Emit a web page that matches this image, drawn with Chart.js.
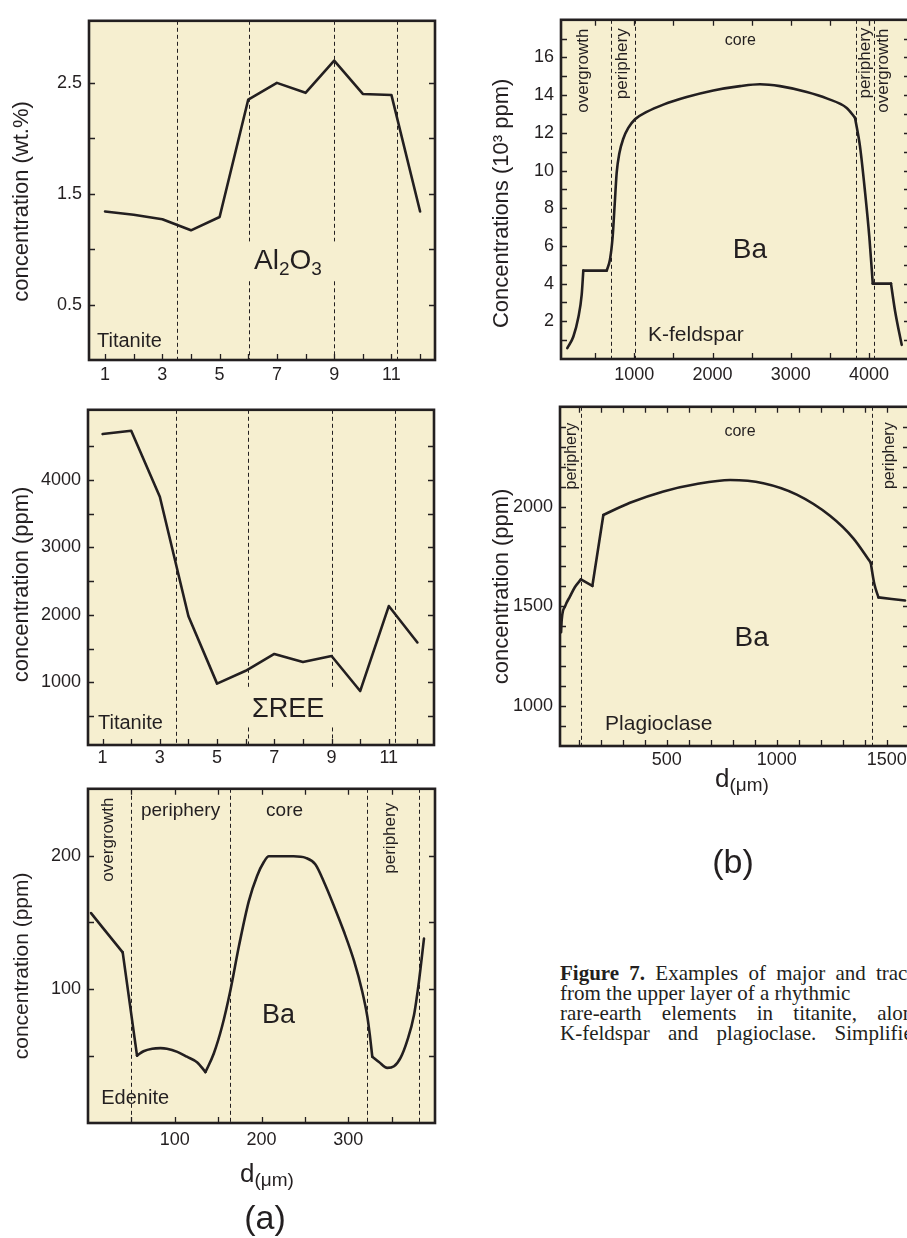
<!DOCTYPE html>
<html>
<head>
<meta charset="utf-8">
<script src="https://cdn.jsdelivr.net/npm/chart.js@4.4.0/dist/chart.umd.min.js"></script>
<style>
  body { margin: 0; background: #fff; width: 907px; height: 1238px; overflow: hidden; position: relative;
         font-family: 'Liberation Sans', Arial, sans-serif; color: #231f20; }
  canvas { position: absolute; }
  .t { position: absolute; white-space: nowrap; }
  .cap { position: absolute; left: 560px; font-family: 'Liberation Serif', 'Times New Roman', serif;
         font-size: 21px; line-height: 20px; white-space: nowrap; }
</style>
</head>
<body>
<canvas id="c1"></canvas>
<canvas id="c2"></canvas>
<canvas id="c3"></canvas>
<canvas id="c4"></canvas>
<canvas id="c5"></canvas>

<div class="t" style="left:240px;top:1160px;font-size:26px;line-height:26px">d<span style="font-size:19px;position:relative;top:4px">(μm)</span></div>
<div class="t" style="left:215px;top:1200px;width:100px;text-align:center;font-size:34px;line-height:34px">(a)</div>
<div class="t" style="left:715px;top:765px;font-size:26px;line-height:26px">d<span style="font-size:19px;position:relative;top:4px">(μm)</span></div>
<div class="t" style="left:683px;top:844px;width:100px;text-align:center;font-size:34px;line-height:34px">(b)</div>

<div class="cap" style="top:963px;word-spacing:5px"><b>Figure 7.</b> Examples of major and trace</div>
<div class="cap" style="top:983px;word-spacing:0px">from the upper layer of a rhythmic</div>
<div class="cap" style="top:1003px;word-spacing:15px">rare-earth elements in titanite, along</div>
<div class="cap" style="top:1023px;word-spacing:13px">K-feldspar and plagioclase. Simplified</div>

<script>
// titanite spot profile, 12 analysis points
const spotNo = [1, 2, 3, 4, 5, 6, 7, 8, 9, 10, 11, 12];
const al2o3Wt = [1.34, 1.31, 1.27, 1.17, 1.29, 2.35, 2.50, 2.41, 2.70, 2.40, 2.39, 1.34];
const sumReePpm = [4680, 4730, 3750, 1980, 980, 1170, 1420, 1300, 1390, 870, 2130, 1590];

// edenite Ba profile
const edeniteD = [3.5, 40, 56.5, 64, 74, 83.5, 91, 103, 114, 126, 135.4, 145, 154.6, 164, 174, 185.4, 195, 202.7,
  208.5, 237, 251, 262, 272, 283.5, 295, 306.5, 316, 322, 325, 327.7, 335.4, 345, 352.7, 360.4, 368, 375.8, 381.5, 387.3];
const edeniteBa = [157, 127.6, 50.4, 53.7, 55.6, 56, 55.6, 53.2, 49.6, 45.3, 38.1, 52, 72.4, 98.8, 132.4, 166, 185, 195.2,
  199.5, 199.5, 198.3, 193.5, 180.3, 162.4, 143.2, 121.6, 98.8, 79.6, 65.2, 49.6, 45.6, 41.2, 42.4, 48.9, 61.6, 80.8, 106, 137.9];
const edeniteKinks = [1, 2, 10, 29];

// K-feldspar Ba profile (10^3 ppm)
const kfsD = [143, 220, 284, 327, 348, 647, 689, 723, 749, 775, 809, 859, 923, 1009, 1158, 1371, 1670, 2010, 2352, 2607,
  2863, 3205, 3460, 3716, 3822, 3886, 3950, 4005, 4049, 4282, 4334, 4419];
const kfsBa = [0.58, 1.18, 2.2, 3.4, 4.69, 4.69, 5.28, 6.48, 8.19, 9.9, 10.92, 11.69, 12.26, 12.72, 13.11, 13.5, 13.9, 14.25,
  14.48, 14.58, 14.48, 14.17, 13.83, 13.32, 12.8, 11.27, 8.87, 6.48, 4.0, 4.0, 2.55, 0.75];
const kfsKinks = [4, 5, 24, 28, 29];

// plagioclase Ba profile
const plgD = [20, 23, 38, 60, 83, 110, 162, 212, 333, 485, 636, 788, 939, 1091, 1242, 1348, 1427, 1443, 1462, 1583];
const plgBa = [1370, 1435, 1500, 1549, 1597, 1635, 1602, 1958, 2019, 2076, 2113, 2133, 2117, 2060, 1954, 1841, 1719, 1614, 1545, 1529];
const plgKinks = [5, 6, 7, 16, 18];

// tick labels
const spotTicks = [1, 3, 5, 7, 9, 11];
const al2o3Ticks = [0.5, 1.5, 2.5];
const reeTicks = [1000, 2000, 3000, 4000];
const edeniteDTicks = [100, 200, 300];
const edeniteBaTicks = [100, 200];
const kfsDTicks = [1000, 2000, 3000, 4000];
const kfsBaTicks = [2, 4, 6, 8, 10, 12, 14, 16];
const plgDTicks = [500, 1000, 1500];
const plgBaTicks = [1000, 1500, 2000];

const ink = '#231f20';
const cream = '#f6efd0';
const FONT = "'Liberation Sans', Arial, sans-serif";

const range = (a, b, s) => { const r = []; for (let v = a; v <= b + 1e-9; v += s) r.push(+v.toFixed(6)); return r; };

// split a profile at its sharp kinks so that each piece can be drawn as a smooth curve
function pieces(xs, ys, kinks) {
  if (!kinks) return [xs.map((v, i) => ({ x: v, y: ys[i] }))];
  const cuts = [0, ...kinks, xs.length - 1];
  const out = [];
  for (let k = 0; k < cuts.length - 1; k++) {
    const pts = [];
    for (let i = cuts[k]; i <= cuts[k + 1]; i++) pts.push({ x: xs[i], y: ys[i] });
    out.push(pts);
  }
  return out;
}

const panelPlugin = {
  id: 'panel',
  beforeDraw(chart, args, o) {
    const { ctx, chartArea: a } = chart;
    ctx.save();
    ctx.fillStyle = cream;
    ctx.fillRect(a.left, a.top, a.right - a.left, a.bottom - a.top);
    ctx.restore();
  },
  beforeDatasetsDraw(chart, args, o) {
    const { ctx, chartArea: a, scales: { x, y } } = chart;
    ctx.save();
    ctx.strokeStyle = ink;
    ctx.lineWidth = 1;
    ctx.setLineDash([4, 3]);
    (o.dashes || []).forEach(d => {
      const px = Math.round(x.getPixelForValue(d.x)) + 0.5;
      const segs = d.gap
        ? [[a.top, y.getPixelForValue(d.gap[0])], [y.getPixelForValue(d.gap[1]), a.bottom]]
        : [[a.top, a.bottom]];
      segs.forEach(([y0, y1]) => {
        ctx.beginPath(); ctx.moveTo(px, y0); ctx.lineTo(px, y1); ctx.stroke();
      });
    });
    ctx.restore();
  },
  afterDraw(chart, args, o) {
    const { ctx, chartArea: a, scales: { x, y } } = chart;
    ctx.save();
    ctx.strokeStyle = ink;
    ctx.fillStyle = ink;
    // inward tick marks
    ctx.lineWidth = 1.3;
    ctx.beginPath();
    (o.xMinor || []).forEach(v => {
      const px = Math.round(x.getPixelForValue(v)) + 0.5;
      ctx.moveTo(px, a.bottom); ctx.lineTo(px, a.bottom - 6);
      if (o.topTicks) { ctx.moveTo(px, a.top); ctx.lineTo(px, a.top + 6); }
    });
    (o.yMinor || []).forEach(v => {
      const py = Math.round(y.getPixelForValue(v)) + 0.5;
      ctx.moveTo(a.left, py); ctx.lineTo(a.left + 6, py);
      ctx.moveTo(a.right, py); ctx.lineTo(a.right - 6, py);
    });
    ctx.stroke();
    // frame
    ctx.lineWidth = 2.6;
    ctx.strokeRect(a.left, a.top, a.right - a.left, a.bottom - a.top);
    // labels inside the panel
    (o.labels || []).forEach(l => {
      ctx.save();
      ctx.translate(x.getPixelForValue(l.x), y.getPixelForValue(l.y));
      if (l.rot) ctx.rotate(-Math.PI / 2);
      if (l.parts) {
        ctx.textAlign = 'left';
        ctx.textBaseline = 'alphabetic';
        let cx = 0;
        l.parts.forEach(([t, size, dy]) => {
          ctx.font = size + 'px ' + FONT;
          ctx.fillText(t, cx, dy);
          cx += ctx.measureText(t).width;
        });
      } else {
        ctx.font = l.size + 'px ' + FONT;
        ctx.textAlign = l.align || 'center';
        ctx.textBaseline = 'middle';
        ctx.fillText(l.t, 0, 0);
      }
      ctx.restore();
    });
    // y axis title
    if (o.title) {
      ctx.save();
      ctx.translate(o.title.cx, (a.top + a.bottom) / 2 + o.title.dy);
      ctx.rotate(-Math.PI / 2);
      ctx.font = o.title.size + 'px ' + FONT;
      ctx.textAlign = 'center';
      ctx.textBaseline = 'middle';
      ctx.fillText(o.title.t, 0, 0);
      ctx.restore();
    }
    ctx.restore();
  }
};

function makePanel(id, pos, xs, ys, kinks, xScale, yScale, deco) {
  const cv = document.getElementById(id);
  const padT = 6, padR = 6, xH = 40;
  cv.width = pos.r + padR - pos.cx;
  cv.height = pos.b + xH - (pos.t - padT);
  cv.style.left = pos.cx + 'px';
  cv.style.top = (pos.t - padT) + 'px';
  const tickFont = { family: FONT, size: 18 };
  const smooth = !!kinks;
  return new Chart(cv, {
    type: 'line',
    data: {
      datasets: pieces(xs, ys, kinks).map(pts => ({
        data: pts,
        borderColor: ink,
        borderWidth: 2.6,
        borderCapStyle: 'round',
        borderJoinStyle: 'round',
        pointRadius: 0,
        tension: 0,
        cubicInterpolationMode: smooth ? 'monotone' : 'default',
        fill: false
      }))
    },
    options: {
      responsive: false,
      animation: false,
      devicePixelRatio: 1,
      layout: { padding: { top: padT, right: padR, left: 0, bottom: 0 } },
      plugins: { legend: { display: false }, tooltip: { enabled: false }, panel: deco },
      scales: {
        x: {
          type: 'linear', min: xScale.min, max: xScale.max,
          afterBuildTicks: s => { s.ticks = xScale.ticks.map(v => ({ value: v })); },
          afterFit: s => { s.height = xH; },
          ticks: { callback: v => String(v), font: tickFont, color: ink, padding: xScale.pad, maxRotation: 0, autoSkip: false },
          grid: { display: false, drawTicks: false },
          border: { display: false }
        },
        y: {
          type: 'linear', min: yScale.min, max: yScale.max,
          afterBuildTicks: s => { s.ticks = yScale.ticks.map(v => ({ value: v })); },
          afterFit: s => { s.width = pos.l - pos.cx; },
          ticks: { callback: v => String(v), font: tickFont, color: ink, padding: 7, autoSkip: false },
          grid: { display: false, drawTicks: false },
          border: { display: false }
        }
      }
    },
    plugins: [panelPlugin]
  });
}

// (a) titanite Al2O3
makePanel('c1', { cx: 0, l: 89, t: 9, r: 435, b: 360 }, spotNo, al2o3Wt, null,
  { min: 0.44, max: 12.52, ticks: spotTicks, pad: 4 },
  { min: 0, max: 3.06, ticks: al2o3Ticks },
  {
    xMinor: range(1, 12, 1), yMinor: range(0.5, 2.5, 0.5),
    dashes: [{ x: 3.5 }, { x: 6.03, gap: [1.07, 0.71] }, { x: 9, gap: [1.07, 0.71] }, { x: 11.2 }],
    labels: [
      { x: 6.2, y: 0.818, parts: [['Al', 28, 0], ['2', 19, 6], ['O', 28, 0], ['3', 19, 6]] },
      { t: 'Titanite', x: 0.72, y: 0.163, size: 20, align: 'left' }
    ],
    title: { t: 'concentration (wt.%)', cx: 22, dy: 11, size: 22 }
  });

// (a) titanite sum REE
makePanel('c2', { cx: 0, l: 88, t: 398, r: 434, b: 745 }, spotNo, sumReePpm, null,
  { min: 0.49, max: 12.58, ticks: spotTicks, pad: 2 },
  { min: 70, max: 5040, ticks: reeTicks },
  {
    xMinor: range(1, 12, 1), yMinor: range(500, 4500, 500),
    dashes: [{ x: 3.55 }, { x: 6.07, gap: [930, 330] }, { x: 9, gap: [930, 330] }, { x: 11.22 }],
    labels: [
      { t: 'ΣREE', x: 7.48, y: 600, size: 27 },
      { t: 'Titanite', x: 0.84, y: 384, size: 20, align: 'left' }
    ],
    title: { t: 'concentration (ppm)', cx: 22, dy: 7, size: 22 }
  });

// (a) edenite Ba
makePanel('c3', { cx: 0, l: 88, t: 777, r: 435, b: 1123 }, edeniteD, edeniteBa, edeniteKinks,
  { min: 0, max: 400, ticks: edeniteDTicks, pad: 6 },
  { min: 0, max: 250, ticks: edeniteBaTicks },
  {
    xMinor: range(50, 350, 50), yMinor: range(50, 200, 50), topTicks: true,
    dashes: [{ x: 50 }, { x: 164.2 }, { x: 322 }, { x: 381.5 }],
    labels: [
      { t: 'overgrowth', x: 23.4, y: 212, size: 17, rot: true },
      { t: 'periphery', x: 106.7, y: 233.8, size: 19 },
      { t: 'core', x: 226.6, y: 233.8, size: 19 },
      { t: 'periphery', x: 348.7, y: 213, size: 17, rot: true },
      { t: 'Ba', x: 219.5, y: 80.6, size: 27 },
      { t: 'Edenite', x: 15.3, y: 18, size: 20, align: 'left' }
    ],
    title: { t: 'concentration (ppm)', cx: 22, dy: 10, size: 21 }
  });

// (b) K-feldspar Ba
makePanel('c4', { cx: 480, l: 561, t: 8, r: 910, b: 359 }, kfsD, kfsBa, kfsKinks,
  { min: 62.7, max: 4525, ticks: kfsDTicks, pad: 5 },
  { min: 0, max: 18, ticks: kfsBaTicks },
  {
    xMinor: range(500, 4500, 500), yMinor: range(1, 17, 1), topTicks: true,
    dashes: [{ x: 698 }, { x: 1009 }, { x: 3836 }, { x: 4070 }],
    labels: [
      { t: 'overgrowth', x: 348, y: 15.3, size: 17, rot: true },
      { t: 'periphery', x: 847, y: 15.67, size: 17, rot: true },
      { t: 'core', x: 2356, y: 16.9, size: 16 },
      { t: 'periphery', x: 3949, y: 15.7, size: 17, rot: true },
      { t: 'overgrowth', x: 4184, y: 15.3, size: 17, rot: true },
      { t: 'Ba', x: 2479, y: 5.78, size: 28 },
      { t: 'K-feldspar', x: 1175, y: 1.27, size: 21, align: 'left' }
    ],
    title: { t: 'Concentrations (10³ ppm)', cx: 22, dy: 14, size: 22 }
  });

// (b) plagioclase Ba
makePanel('c5', { cx: 480, l: 560, t: 395, r: 909, b: 746 }, plgD, plgBa, plgKinks,
  { min: 15, max: 1601, ticks: plgDTicks, pad: 3 },
  { min: 800, max: 2500, ticks: plgBaTicks },
  {
    xMinor: range(100, 1600, 100), yMinor: range(900, 2400, 100), topTicks: true,
    dashes: [{ x: 110 }, { x: 1435 }],
    labels: [
      { t: 'periphery', x: 68, y: 2253, size: 16, rot: true },
      { t: 'core', x: 833, y: 2376, size: 16 },
      { t: 'periphery', x: 1515, y: 2255, size: 16, rot: true },
      { t: 'Ba', x: 886, y: 1339, size: 28 },
      { t: 'Plagioclase', x: 220, y: 907, size: 21, align: 'left' }
    ],
    title: { t: 'concentration (ppm)', cx: 22, dy: 10, size: 22 }
  });
</script>
</body>
</html>
